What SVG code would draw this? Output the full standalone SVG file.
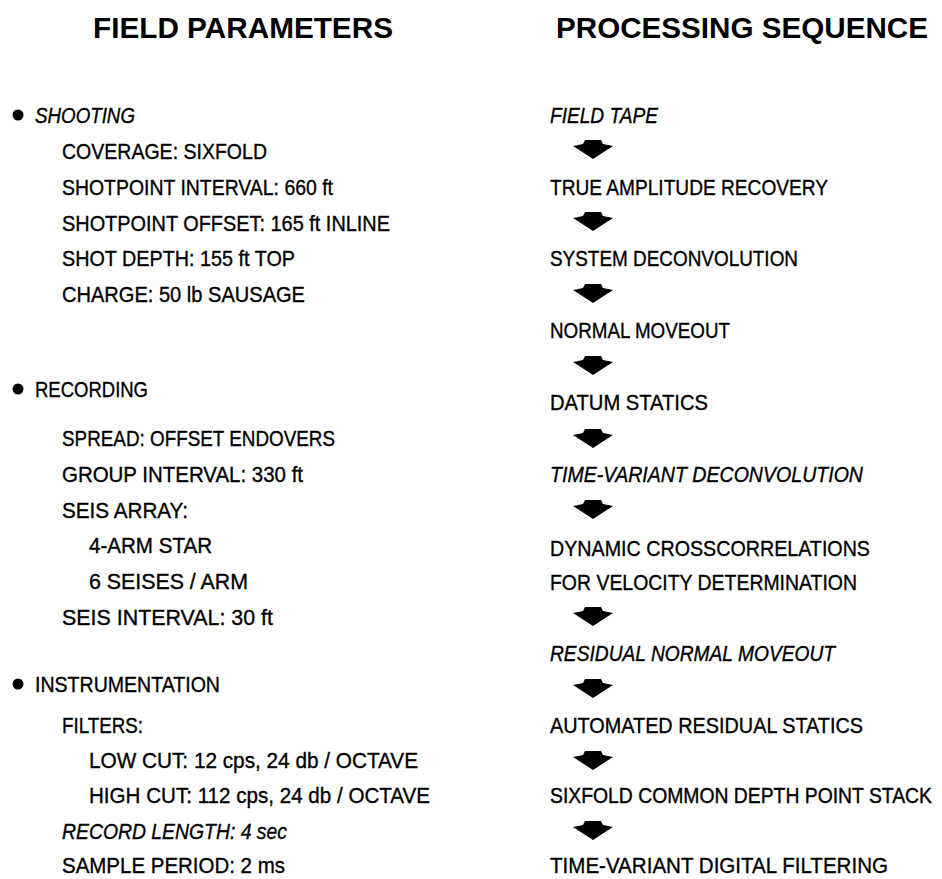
<svg xmlns="http://www.w3.org/2000/svg" xmlns:xlink="http://www.w3.org/1999/xlink" width="942" height="879" viewBox="0 0 942 879">
<style>
text{font-family:"Liberation Sans",Arial,sans-serif;fill:#000;}
.h{font-size:29px;font-weight:bold;}
.t{font-size:22px;stroke:#000;stroke-width:0.35px;}
.s{font-size:19.5px;stroke:#000;stroke-width:0.35px;}
.i{font-style:italic;}
.dot{fill:#000;}
.arr{fill:#000;}
</style>
<defs>
<path id="arrow" d="M-8,0 L8,0 L10,4 L20,6 L0,19 L-20,6 L-10,4 Z"/>
</defs>
<rect width="942" height="879" fill="#fff"/>
<g id="header-field"><text class="h" x="93" y="38" textLength="300" lengthAdjust="spacingAndGlyphs">FIELD PARAMETERS</text></g>
<g id="header-processing"><text class="h" x="556" y="38" textLength="372" lengthAdjust="spacingAndGlyphs">PROCESSING SEQUENCE</text></g>

<g id="shooting">
<circle class="dot" cx="18" cy="115" r="5.5"/>
<text class="t i" x="35" y="123" textLength="100" lengthAdjust="spacingAndGlyphs">SHOOTING</text>
<text class="t" x="62" y="159" textLength="205" lengthAdjust="spacingAndGlyphs">COVERAGE: SIXFOLD</text>
<text class="t" x="62" y="195" textLength="271" lengthAdjust="spacingAndGlyphs">SHOTPOINT INTERVAL: 660 ft</text>
<text class="t" x="62" y="231" textLength="328" lengthAdjust="spacingAndGlyphs">SHOTPOINT OFFSET: 165 ft INLINE</text>
<text class="t" x="62" y="266" textLength="233" lengthAdjust="spacingAndGlyphs">SHOT DEPTH: 155 ft TOP</text>
<text class="t" x="62" y="302" textLength="243" lengthAdjust="spacingAndGlyphs">CHARGE: 50 lb SAUSAGE</text>
</g>

<g id="recording">
<circle class="dot" cx="18" cy="389" r="5.5"/>
<text class="t" x="35" y="397" textLength="113" lengthAdjust="spacingAndGlyphs">RECORDING</text>
<text class="t" x="62" y="446" textLength="273" lengthAdjust="spacingAndGlyphs">SPREAD: OFFSET ENDOVERS</text>
<text class="t" x="62" y="482" textLength="241" lengthAdjust="spacingAndGlyphs">GROUP INTERVAL: 330 ft</text>
<text class="t" x="62" y="518" textLength="126" lengthAdjust="spacingAndGlyphs">SEIS ARRAY:</text>
<text class="t" x="89" y="553" textLength="123" lengthAdjust="spacingAndGlyphs">4-ARM STAR</text>
<text class="t" x="89" y="589" textLength="159" lengthAdjust="spacingAndGlyphs">6 SEISES / ARM</text>
<text class="t" x="62" y="625" textLength="211" lengthAdjust="spacingAndGlyphs">SEIS INTERVAL: 30 ft</text>
</g>

<g id="instrumentation">
<circle class="dot" cx="18" cy="684" r="5.5"/>
<text class="t" x="35" y="692" textLength="185" lengthAdjust="spacingAndGlyphs">INSTRUMENTATION</text>
<text class="t" x="62" y="733" textLength="81" lengthAdjust="spacingAndGlyphs">FILTERS:</text>
<text class="t" x="89" y="768" textLength="329" lengthAdjust="spacingAndGlyphs">LOW CUT: 12 cps, 24 db / OCTAVE</text>
<text class="t" x="89" y="803" textLength="341" lengthAdjust="spacingAndGlyphs">HIGH CUT: 112 cps, 24 db / OCTAVE</text>
<text class="t i" x="62" y="839" textLength="225" lengthAdjust="spacingAndGlyphs">RECORD LENGTH: 4 sec</text>
<text class="t" x="62" y="873" textLength="223" lengthAdjust="spacingAndGlyphs">SAMPLE PERIOD: 2 ms</text>
</g>

<g id="step-field-tape"><text class="t i" x="550" y="123" textLength="108" lengthAdjust="spacingAndGlyphs">FIELD TAPE</text></g>
<g id="step-true-amplitude"><text class="t" x="550" y="195" textLength="278" lengthAdjust="spacingAndGlyphs">TRUE AMPLITUDE RECOVERY</text></g>
<g id="step-system-decon"><text class="t" x="550" y="266" textLength="248" lengthAdjust="spacingAndGlyphs">SYSTEM DECONVOLUTION</text></g>
<g id="step-nmo"><text class="t" x="550" y="338" textLength="180" lengthAdjust="spacingAndGlyphs">NORMAL MOVEOUT</text></g>
<g id="step-datum"><text class="t" x="550" y="410" textLength="158" lengthAdjust="spacingAndGlyphs">DATUM STATICS</text></g>
<g id="step-tv-decon"><text class="t i" x="550" y="482" textLength="313" lengthAdjust="spacingAndGlyphs">TIME-VARIANT DECONVOLUTION</text></g>
<g id="step-crosscorr">
<text class="t" x="550" y="556" textLength="320" lengthAdjust="spacingAndGlyphs">DYNAMIC CROSSCORRELATIONS</text>
<text class="t" x="550" y="590" textLength="307" lengthAdjust="spacingAndGlyphs">FOR VELOCITY DETERMINATION</text>
</g>
<g id="step-residual-nmo"><text class="t i" x="550" y="661" textLength="285" lengthAdjust="spacingAndGlyphs">RESIDUAL NORMAL MOVEOUT</text></g>
<g id="step-residual-statics"><text class="t" x="550" y="733" textLength="313" lengthAdjust="spacingAndGlyphs">AUTOMATED RESIDUAL STATICS</text></g>
<g id="step-stack"><text class="s" transform="translate(550 803) scale(1 1.13)" x="0" y="0" textLength="382" lengthAdjust="spacingAndGlyphs">SIXFOLD COMMON DEPTH POINT STACK</text></g>
<g id="step-filtering"><text class="t" x="550" y="873" textLength="338" lengthAdjust="spacingAndGlyphs">TIME-VARIANT DIGITAL FILTERING</text></g>

<g id="connectors" class="arr">
<use href="#arrow" x="593" y="140"/>
<use href="#arrow" x="593" y="212"/>
<use href="#arrow" x="593" y="284"/>
<use href="#arrow" x="593" y="356"/>
<use href="#arrow" x="593" y="429"/>
<use href="#arrow" x="593" y="500"/>
<use href="#arrow" x="593" y="607"/>
<use href="#arrow" x="593" y="679"/>
<use href="#arrow" x="593" y="751"/>
<use href="#arrow" x="593" y="821"/>
</g>
</svg>
